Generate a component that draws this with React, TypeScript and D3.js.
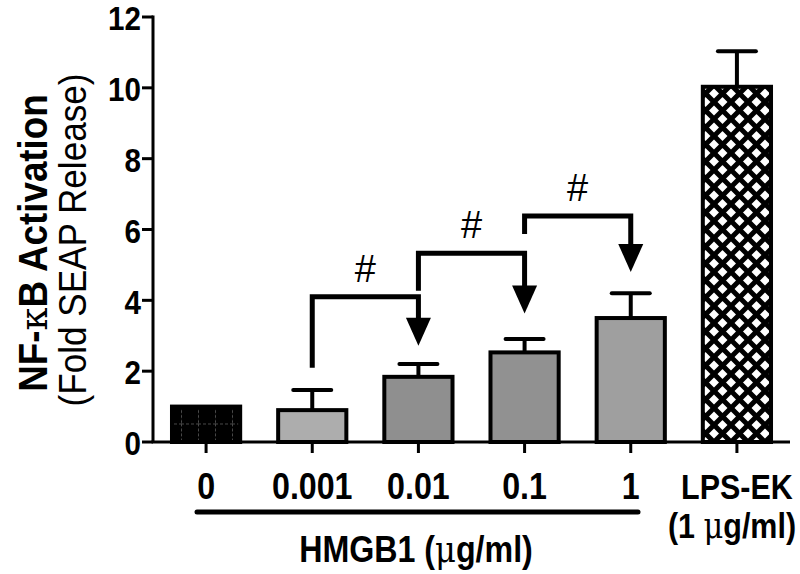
import React from "react";
import * as d3 from "d3";

// categories and values
const categories = ["0", "0.001", "0.01", "0.1", "1", "LPS-EK"];
const means = [1.0, 0.9, 1.84, 2.53, 3.5, 10.03];
const errors = [0, 0.57, 0.36, 0.38, 0.7, 1.0];
const fills = ["url(#grid)", "#adadad", "#8f8f8f", "#919191", "#9f9f9f", "url(#hatch)"];
const yTicks = [0, 2, 4, 6, 8, 10, 12];

// significance brackets: from -> to (arrow), y of bar, left end, arrow tip
const bracketFrom = ["0.001", "0.01", "0.1"];
const bracketTo = ["0.01", "0.1", "1"];
const bracketTop = [4.1, 5.33, 6.38];
const bracketLeftEnd = [2.1, 4.27, 5.87];
const bracketTip = [2.72, 3.63, 4.8];

const W = 800;
const H = 574;

const font = "'Liberation Sans', Arial, Helvetica, sans-serif";

export default function App() {
  const y = d3.scaleLinear().domain([0, 12]).range([442, 17]);
  const x = d3
    .scaleBand()
    .domain(categories)
    .range([153, 790])
    .paddingInner(0.32)
    .paddingOuter(0.16);
  const bw = x.bandwidth();
  const cx = (c: string) => (x(c) as number) + bw / 2;
  const capW = 38;
  const headH = 28;
  const headW = 25;
  const sx = 0.87; // the figure's font is a bit narrower than Arial

  return (
    <svg
      width={W}
      height={H}
      style={{ position: "absolute", left: 0, top: 0, background: "#fff" }}
      fontFamily={font}
    >
      <defs>
        <pattern id="grid" patternUnits="userSpaceOnUse" width={17} height={18.5} x={181} y={405}>
          <rect width={17} height={18.5} fill="#000" />
          <line x1={0.5} y1={0} x2={0.5} y2={18.5} stroke="#4a4a4a" strokeWidth={1} strokeDasharray="3,2" />
          <line x1={0} y1={0.5} x2={17} y2={0.5} stroke="#4a4a4a" strokeWidth={1} strokeDasharray="3,2" />
        </pattern>
        <pattern id="hatch" patternUnits="userSpaceOnUse" width={17} height={17} x={0} y={0}>
          <rect width={17} height={17} fill="#fff" />
          <path
            d="M-4,-4 L21,21 M21,-4 L-4,21 M-4,13 L4,21 M13,-4 L21,4 M13,21 L21,13 M-4,4 L4,-4"
            stroke="#000"
            strokeWidth={5}
          />
        </pattern>
      </defs>

      {/* bars */}
      {categories.map((c, i) => (
        <rect
          key={c}
          x={(x(c) as number) + 2}
          y={y(means[i])}
          width={bw - 4}
          height={y(0) - y(means[i])}
          fill={fills[i]}
          stroke="#000"
          strokeWidth={4}
        />
      ))}

      {/* error bars, upper only */}
      {categories.map((c, i) =>
        errors[i] > 0 ? (
          <g key={"e" + c} stroke="#000" strokeWidth={4}>
            <line x1={cx(c)} x2={cx(c)} y1={y(means[i])} y2={y(means[i] + errors[i])} />
            <line
              x1={cx(c) - capW / 2}
              x2={cx(c) + capW / 2}
              y1={y(means[i] + errors[i])}
              y2={y(means[i] + errors[i])}
              strokeLinecap="round"
            />
          </g>
        ) : null
      )}

      {/* axes */}
      <line x1={153} x2={153} y1={y(12) - 1.5} y2={y(0)} stroke="#000" strokeWidth={3} />
      <line x1={151.5} x2={790} y1={y(0)} y2={y(0)} stroke="#000" strokeWidth={3} />
      {yTicks.map((t) => (
        <g key={"yt" + t}>
          <line x1={142} x2={153} y1={y(t)} y2={y(t)} stroke="#000" strokeWidth={3} />
          <text
            transform={`translate(141,${y(t) + 1}) scale(${sx},1)`}
            dy="0.36em"
            textAnchor="end"
            fontSize={34}
            fontWeight="bold"
          >
            {t}
          </text>
        </g>
      ))}
      {categories.map((c) => (
        <g key={"xt" + c}>
          <line x1={cx(c)} x2={cx(c)} y1={y(0)} y2={y(0) + 11} stroke="#000" strokeWidth={3} />
          <text
            transform={`translate(${cx(c)},499) scale(${sx},1)`}
            textAnchor="middle"
            fontSize={c === "LPS-EK" ? 35 : 37}
            fontWeight="bold"
          >
            {c}
          </text>
        </g>
      ))}

      {/* HMGB1 group line and labels */}
      <line x1={197} x2={638} y1={512} y2={512} stroke="#000" strokeWidth={5} strokeLinecap="round" />
      <text
        transform={`translate(416,562) scale(${sx},1)`}
        textAnchor="middle"
        fontSize={37}
        fontWeight="bold"
      >
        HMGB1 (<tspan fontWeight="normal" fontFamily="'DejaVu Serif', serif">μ</tspan>g/ml)
      </text>
      <text
        transform={`translate(732,538) scale(${sx},1)`}
        textAnchor="middle"
        fontSize={35}
        fontWeight="bold"
      >
        (1 <tspan fontWeight="normal" fontFamily="'DejaVu Serif', serif">μ</tspan>g/ml)
      </text>

      {/* y axis title */}
      <text
        transform="translate(47,243) rotate(-90) scale(0.92,1)"
        textAnchor="middle"
        fontSize={40}
        fontWeight="bold"
      >
        NF-<tspan fontFamily="'DejaVu Serif', serif" fontWeight="normal">κ</tspan>B Activation
      </text>
      <text
        transform="translate(86,240) rotate(-90) scale(0.9,1)"
        textAnchor="middle"
        fontSize={39}
      >
        (Fold SEAP Release)
      </text>

      {/* significance brackets */}
      {bracketFrom.map((f, i) => {
        const x1 = cx(f);
        const x2 = cx(bracketTo[i]);
        const top = y(bracketTop[i]);
        const tip = y(bracketTip[i]);
        return (
          <g key={"b" + i}>
            <path
              d={`M${x1},${y(bracketLeftEnd[i])} L${x1},${top} L${x2},${top} L${x2},${tip - headH + 2}`}
              fill="none"
              stroke="#000"
              strokeWidth={5}
            />
            <path
              d={`M${x2 - headW / 2},${tip - headH} L${x2 + headW / 2},${tip - headH} L${x2},${tip} Z`}
              fill="#000"
            />
            <text x={(x1 + x2) / 2} y={top - 15} textAnchor="middle" fontSize={38}>
              #
            </text>
          </g>
        );
      })}
    </svg>
  );
}
